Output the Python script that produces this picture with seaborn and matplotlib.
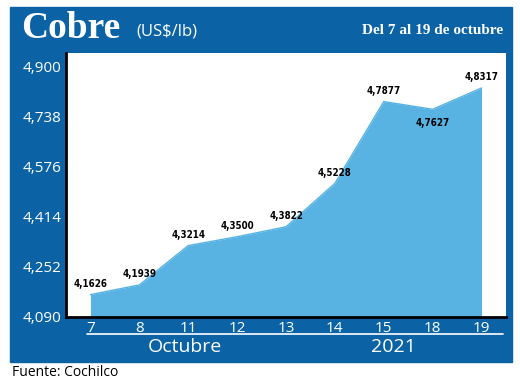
import matplotlib
matplotlib.use("Agg")
import matplotlib.pyplot as plt
import seaborn as sns
import pandas as pd
from matplotlib.patches import Rectangle

# ── Data ───────────────────────────────────────────────────────────────────────
days = ["7", "8", "11", "12", "13", "14", "15", "18", "19"]
prices = [4.1626, 4.1939, 4.3214, 4.3500, 4.3822, 4.5228, 4.7877, 4.7627, 4.8317]
price_labels = ["4,1626", "4,1939", "4,3214", "4,3500", "4,3822",
                "4,5228", "4,7877", "4,7627", "4,8317"]
y_ticks = [4.090, 4.252, 4.414, 4.576, 4.738, 4.900]
y_tick_labels = ["4,090", "4,252", "4,414", "4,576", "4,738", "4,900"]

BLUE = "#0b63a6"
FILL = "#58b3e3"
W, H = 520, 385

df = pd.DataFrame({"pos": range(len(days)), "price": prices})

sns.set_theme(style="white")
plt.rcParams["font.family"] = ["Open Sans", "DejaVu Sans"]

fig = plt.figure(figsize=(W / 100, H / 100), dpi=100)
fig.patch.set_facecolor("white")

# background axes in pixel coordinates for the blue frame and captions
bg = fig.add_axes([0, 0, 1, 1], zorder=0)
bg.set_xlim(0, W)
bg.set_ylim(H, 0)
bg.axis("off")
bg.add_patch(Rectangle((10, 7), 502, 355, color=BLUE, zorder=0))
bg.plot([87, 503], [334, 334], color="white", linewidth=1.2)
bg.text(185, 347, "Octubre", color="white", fontsize=14, ha="center", va="center")
bg.text(393, 347, "2021", color="white", fontsize=14, ha="center", va="center")
bg.text(21, 29, "Cobre", color="white", fontsize=27, fontweight="bold",
        family=["Liberation Serif", "DejaVu Serif"], ha="left", va="center")
bg.text(136, 31, "(US$/lb)", color="white", fontsize=12, ha="left", va="center")
bg.text(503, 31, "Del 7 al 19 de octubre", color="white", fontsize=11,
        fontweight="bold", family=["Liberation Serif", "DejaVu Serif"],
        ha="right", va="center")
bg.text(12, 373, "Fuente: Cochilco", color="black", fontsize=10, ha="left", va="center")

# main chart
ax = fig.add_axes([66 / W, 1 - 317 / H, 440 / W, 264 / H], zorder=1)
ax.set_facecolor("white")

ax.fill_between(df["pos"], df["price"], 4.0, color=FILL, linewidth=0, zorder=1)
sns.lineplot(data=df, x="pos", y="price", ax=ax, color=FILL, linewidth=1, zorder=2)

for i, (v, lab) in enumerate(zip(prices, price_labels)):
    below = i == 7
    ax.annotate(lab, (i, v), xytext=(0, -6 if below else 4), textcoords="offset points",
                ha="center", va="top" if below else "bottom", fontsize=7,
                fontweight="bold", fontstretch="condensed",
                family=["Liberation Sans Narrow", "DejaVu Sans"], color="black")

ax.set_xlim(-0.5, 8.5)
ax.set_ylim(4.09, 4.945)
ax.set_xticks(range(len(days)))
ax.set_xticklabels(days, color="white", fontsize=11)
ax.set_yticks(y_ticks)
ax.set_yticklabels(y_tick_labels, color="white", fontsize=11)
ax.tick_params(axis="y", direction="in", length=10, width=2, color="black", pad=3)
ax.tick_params(axis="x", length=0, pad=3)
ax.set_xlabel("")
ax.set_ylabel("")
for s in ["top", "right"]:
    ax.spines[s].set_visible(False)
for s in ["left", "bottom"]:
    ax.spines[s].set_color("black")
    ax.spines[s].set_linewidth(2)

fig.savefig("out.png", dpi=100)
